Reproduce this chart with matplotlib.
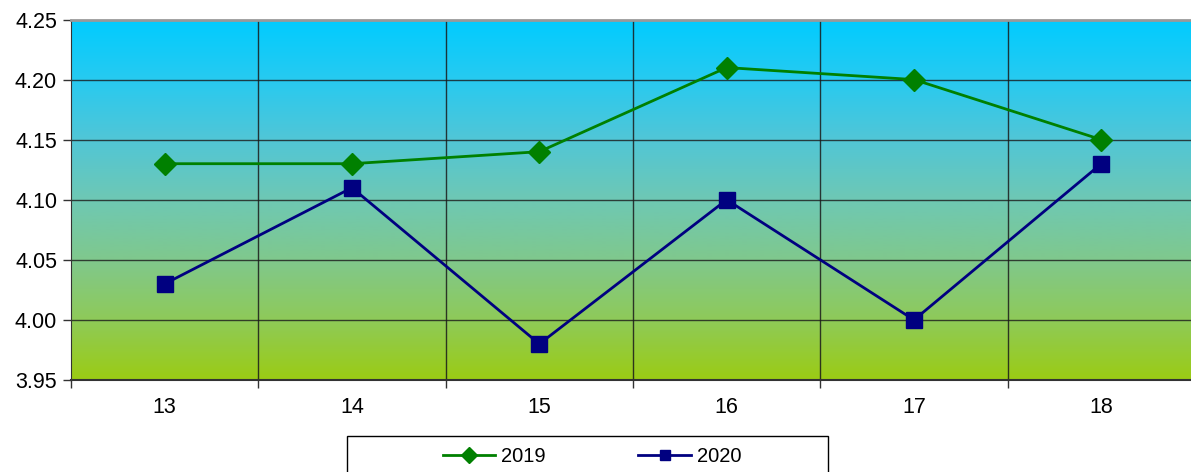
import numpy as np
import matplotlib
matplotlib.use("Agg")
import matplotlib.pyplot as plt
from matplotlib.patches import Rectangle
from matplotlib.ticker import FixedLocator, NullFormatter

categories = ["13", "14", "15", "16", "17", "18"]
series_2019 = [4.13, 4.13, 4.14, 4.21, 4.20, 4.15]
series_2020 = [4.03, 4.11, 3.98, 4.10, 4.00, 4.13]
y_ticks = [3.95, 4.00, 4.05, 4.10, 4.15, 4.20, 4.25]

plt.rcParams['font.family'] = ['Liberation Sans', 'DejaVu Sans']

W, H = 1191, 472
fig = plt.figure(figsize=(W / 100, H / 100), dpi=100)
left, right, top, bottom = 71, 1195, 19.5, 380
ax = fig.add_axes([left / W, 1 - bottom / H, (right - left) / W, (bottom - top) / H])

x = np.arange(len(categories))
ax.set_xlim(-0.5, len(categories) - 0.5)
ax.set_ylim(3.95, 4.25)

# gradient background (top -> bottom)
stops = np.array([0.0, 0.17, 0.33, 0.5, 0.67, 0.83, 1.0])
cols = np.array([
    [0, 204, 255],
    [40, 202, 240],
    [80, 198, 215],
    [110, 200, 180],
    [128, 200, 140],
    [142, 202, 90],
    [155, 204, 20],
]) / 255
t = np.linspace(0, 1, 400)
grad = np.stack([np.interp(t, stops, cols[:, i]) for i in range(3)], axis=1)[:, None, :]
ax.imshow(grad, extent=[-0.5, len(categories) - 0.5, 3.95, 4.25], aspect='auto',
          origin='upper', zorder=0, interpolation='bilinear')

# gridlines
for yv in y_ticks[1:-1]:
    ax.axhline(yv, color='#1a1a1a', lw=1.0, zorder=1, alpha=0.8)
for xb in np.arange(0.5, len(categories) - 0.5, 1):
    ax.axvline(xb, color='#1a1a1a', lw=1.0, zorder=1, alpha=0.85)

ax.plot(x, series_2019, color='#008000', lw=2, marker='D', markersize=11,
        markerfacecolor='#008000', markeredgecolor='#008000', label='2019', zorder=3)
ax.plot(x, series_2020, color='#000080', lw=2, marker='s', markersize=11,
        markerfacecolor='#000080', markeredgecolor='#000080', label='2020', zorder=3)

ax.set_yticks(y_ticks)
ax.set_yticklabels([f"{v:.2f}" for v in y_ticks], fontsize=15.5)
ax.set_xticks(x)
ax.set_xticklabels(categories, fontsize=15.5)
ax.tick_params(axis='x', length=0, pad=12)
ax.xaxis.set_minor_locator(FixedLocator(np.arange(-0.5, len(categories), 1)))
ax.xaxis.set_minor_formatter(NullFormatter())
ax.tick_params(axis='x', which='minor', length=6, width=1, color='#333333')
ax.tick_params(axis='y', length=6, width=1, color='#333333', pad=4)

ax.spines['top'].set_color('#999999')
ax.spines['top'].set_linewidth(2)
ax.spines['right'].set_visible(False)
ax.spines['left'].set_color('#333333')
ax.spines['bottom'].set_color('#333333')
ax.spines['bottom'].set_linewidth(1.5)

# legend box
fig.patches.append(Rectangle((347 / W, -0.05), (828 - 347) / W, (1 - 436 / H) + 0.05,
                             transform=fig.transFigure, fill=False, edgecolor='black', lw=1))
handles, labels = ax.get_legend_handles_labels()
fig.legend(handles, labels, loc='center', bbox_to_anchor=(592 / W, 1 - 457 / H), ncol=2,
           frameon=False, fontsize=14.5, handlelength=2.6, handletextpad=0.3,
           columnspacing=4.6, markerscale=0.7)

fig.savefig("out.png", dpi=100)
